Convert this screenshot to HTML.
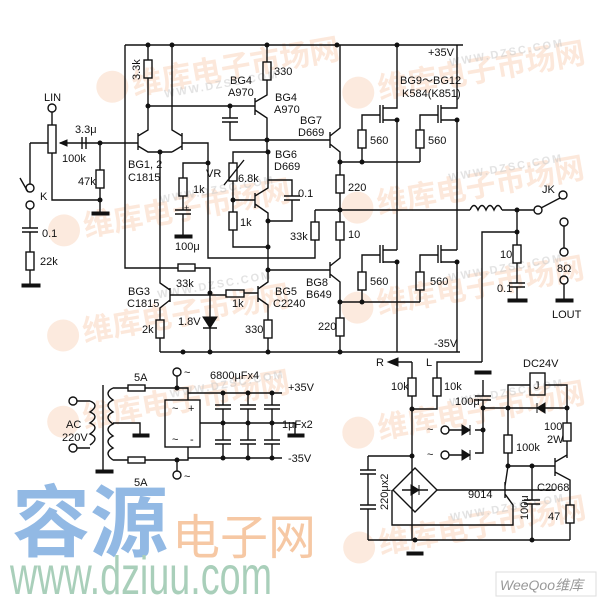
<!DOCTYPE html>
<html><head><meta charset="utf-8"><style>
html,body{margin:0;padding:0;background:#fff;width:600px;height:600px;overflow:hidden}
svg{display:block}
text{font-family:"Liberation Sans","Noto Sans CJK SC",sans-serif;fill:#111;font-size:11px}
.wm{fill:rgba(240,150,90,0.22);font-size:30px;font-weight:bold}
.wm2{fill:rgba(200,200,200,0.5);font-size:11px;font-weight:bold;letter-spacing:2px}
</style></head><body>
<svg width="600" height="600" viewBox="0 0 600 600" xmlns="http://www.w3.org/2000/svg">
<g>
<g transform="rotate(-10 150 70)"><circle cx="110" cy="80" r="16" fill="rgba(240,150,90,0.2)"/><text class="wm" x="130" y="92">维库电子市场网</text><text class="wm2" x="160" y="100">WWW.DZSC.COM</text></g>
<g transform="rotate(-10 150 200)"><circle cx="60" cy="215" r="16" fill="rgba(240,150,90,0.2)"/><text class="wm" x="80" y="225">维库电子市场网</text><text class="wm2" x="160" y="205">WWW.DZSC.COM</text></g>
<g transform="rotate(-10 150 310)"><circle cx="60" cy="320" r="16" fill="rgba(240,150,90,0.2)"/><text class="wm" x="80" y="330">维库电子市场网</text><text class="wm2" x="160" y="300">WWW.DZSC.COM</text></g>
<g transform="rotate(-10 400 70)"><circle cx="355" cy="85" r="16" fill="rgba(240,150,90,0.2)"/><text class="wm" x="375" y="95">维库电子市场网</text><text class="wm2" x="450" y="75">WWW.DZSC.COM</text></g>
<g transform="rotate(-10 400 190)"><circle cx="355" cy="200" r="16" fill="rgba(240,150,90,0.2)"/><text class="wm" x="375" y="210">维库电子市场网</text><text class="wm2" x="450" y="190">WWW.DZSC.COM</text></g>
<g transform="rotate(-10 400 290)"><circle cx="355" cy="300" r="16" fill="rgba(240,150,90,0.2)"/><text class="wm" x="375" y="310">维库电子市场网</text><text class="wm2" x="450" y="290">WWW.DZSC.COM</text></g>
<g transform="rotate(-10 100 400)"><circle cx="60" cy="415" r="16" fill="rgba(240,150,90,0.2)"/><text class="wm" x="80" y="425">维库电子市场网</text><text class="wm2" x="170" y="410">WWW.DZSC.COM</text></g>
<g transform="rotate(-10 400 410)"><circle cx="355" cy="425" r="16" fill="rgba(240,150,90,0.2)"/><text class="wm" x="375" y="435">维库电子市场网</text><text class="wm2" x="450" y="415">WWW.DZSC.COM</text></g>
<g transform="rotate(-10 400 520)"><circle cx="355" cy="540" r="16" fill="rgba(240,150,90,0.2)"/><text class="wm" x="375" y="550">维库电子市场网</text><text class="wm2" x="450" y="530">WWW.DZSC.COM</text></g>
</g>
<text x="12" y="550" style="font-size:78px;font-weight:bold;fill:#92b9e4">容源</text>
<text x="172" y="554" style="font-size:48px;fill:#f6c8a4">电子网</text>
<text x="10" y="594" textLength="262" lengthAdjust="spacingAndGlyphs" style="font-size:54px;fill:#a9cfba">www.dziuu.com</text>
<rect x="496" y="572" width="100" height="24" fill="#fff" stroke="#ddd"/>
<text x="500" y="590" style="font-size:14px;font-style:italic;fill:#999">WeeQoo维库</text>

<g stroke="#111" stroke-width="1.4" fill="none">
<path d="M125,45H463 M125,45V268H178 M195,268H210V293"/>
<rect x="178" y="264" width="17" height="7"/>
<path d="M148,45V60 M148,78V106H255"/><rect x="144" y="60" width="8" height="18"/>
<path d="M230,106V118 M222,118H238 M222,122H238 M230,122V140H268"/>
<path d="M255,98V115 M255,102L267,95V80 M267,45V62 M255,110L267,118V152"/><rect x="263" y="62" width="8" height="18"/>
<path d="M267,152H233V163 M233,181V200H255 M255,193V208 M255,196L268,188V152 M255,204L268,213V270 M233,200V212 M233,230V247H268"/>
<rect x="229" y="163" width="8" height="18"/><rect x="229" y="212" width="8" height="18"/>
<path d="M224,185L244,160"/>
<path d="M268,180H292V196 M284,196H300 M284,200H300 M292,200V221H268"/>
<path d="M100,143H82 M86,143H138 M138,133V150 M138,136L148,130V106 M138,146L148,152H172 M182,133V150 M182,136L172,130V45 M182,146L172,152 M182,143H208V258H315V240 M315,222V210"/>
<path d="M82,137V149 M86,137V149"/>
<rect x="311" y="222" width="8" height="18"/>
<path d="M208,163H183V178 M183,196V210 M175,210H191 M175,214H191 M183,214V236"/><rect x="179" y="178" width="8" height="18"/>
<path d="M160,152V283L170,290 M170,288V302 M170,295H226 M244,293H258 M170,300L160,308V320 M160,338V352"/>
<rect x="156" y="320" width="8" height="18"/><rect x="226" y="290" width="18" height="7"/>
<path d="M210,293V317 M210,328V352 M203,328H217"/>
<path d="M258,286V302 M258,289L268,282V270 M258,298L268,305V320 M268,338V352 M268,270H330"/><rect x="264" y="320" width="8" height="18"/>
<path d="M268,140H330 M330,132V148 M330,136L340,128V45 M330,144L340,152V175 M340,193V222 M340,240V258L330,266 M330,262V278 M330,274L340,282V318 M340,336V352"/>
<rect x="336" y="175" width="8" height="18"/><rect x="336" y="222" width="8" height="18"/><rect x="336" y="318" width="8" height="18"/>
<path d="M340,162H420 M362,162V148 M362,130V115H380 M380,105V123 M383,105V123 M383,108H397V45 M383,120H397V250"/>
<rect x="358" y="130" width="8" height="18"/>
<path d="M420,162V148 M420,130V115H438 M438,105V123 M441,105V123 M441,108H457V45 M441,120H457V250"/>
<rect x="416" y="130" width="8" height="18"/>
<path d="M340,302H420 M362,302V290 M362,272V255H380 M380,245V263 M383,245V263 M383,250H397 M383,262H397V352"/>
<rect x="358" y="272" width="8" height="18"/>
<path d="M420,302V290 M420,272V255H438 M438,245V263 M441,245V263 M441,250H457 M441,262H457V352"/>
<rect x="416" y="272" width="8" height="18"/>
<path d="M160,352H460"/>
<path d="M315,210H470 M470,210q4,-9 8,0q4,-9 8,0q4,-9 8,0q4,-9 8,0 M502,210H534 M517,210V232H482V362 M517,232V245 M517,263V283 M509,283H525 M509,287H525 M517,287V300"/>
<rect x="513" y="245" width="8" height="18"/>
<circle cx="538" cy="210" r="4"/><path d="M541,208L560,198"/><circle cx="563" cy="195" r="4"/>
<circle cx="564" cy="222" r="4"/><path d="M564,226V248"/><circle cx="564" cy="252" r="4"/>
<circle cx="564" cy="280" r="4"/><path d="M564,284V300"/>
<circle cx="52" cy="108" r="4"/><path d="M52,112V125 M52,153V200H100 M30,143H48 M30,143V184 M30,209V228 M22,228H38 M22,232H38 M30,232V252 M30,270V285 M100,143V170 M100,188V213 M28,192L20,178"/>
<rect x="48" y="125" width="8" height="28"/>
<circle cx="30" cy="188" r="4"/><circle cx="30" cy="205" r="4"/>
<rect x="26" y="252" width="8" height="18"/><rect x="96" y="170" width="8" height="18"/>
<path d="M60,143H82"/>
<circle cx="73" cy="401" r="4"/><circle cx="73" cy="448" r="4"/>
<path d="M77,401H90 M77,448H90 M90,401q10,4 0,11q10,4 0,11q10,4 0,11q10,4 0,11 M103,385V470 M113,388q-10,5 0,12q-10,5 0,12q-10,5 0,12q-10,5 0,12q-10,5 0,12q-10,5 0,12 M113,388H128 M113,460H128 M113,423H140V435 M145,388H188V400 M145,460H188V447 M177,388V376 M177,460V471 M188,393H282 M188,458H282 M200,423H282"/>
<rect x="128" y="385" width="17" height="6"/><rect x="128" y="457" width="17" height="6"/>
<circle cx="177" cy="372" r="4"/><circle cx="177" cy="475" r="4"/>
<rect x="165" y="400" width="35" height="47"/>
<path d="M223,393V405 M215,405H231 M215,409H231 M223,409V436 M223,436V440 M215,440H231 M215,444H231 M223,444V458"/>
<path d="M248,393V405 M240,405H256 M240,409H256 M248,409V436 M248,436V440 M240,440H256 M240,444H256 M248,444V458"/>
<path d="M272,393V405 M264,405H280 M264,409H280 M272,409V436 M272,436V440 M264,440H280 M264,444H280 M272,444V458"/>
<path d="M282,423H295V435"/>
<path d="M412,362H398 M412,362V378 M412,396V540 M412,409H437V396 M437,378V362H482 M483,380V396 M475,396H491 M475,400H491 M483,400V453H475 M483,430H475 M449,430H462 M449,455H462 M483,408H567 M508,408V385H530 M545,385H567V423 M508,408V435 M508,453V466H555 M567,441V458 M555,458V476 M555,462L567,455 M555,472L570,480V505 M570,523V540 M532,466V500 M524,500H540 M524,504H540 M532,504V540 M368,540H570 M368,456H412 M368,456V470 M360,470H376 M360,474H376 M368,474V505 M360,505H376 M360,509H376 M368,509V540 M437,490H555 M505,482V498 M505,486L508,466 M505,494L513,505V525H392V490"/>
<rect x="408" y="378" width="8" height="18"/><rect x="433" y="378" width="8" height="18"/>
<rect x="504" y="435" width="8" height="18"/><rect x="563" y="423" width="8" height="18"/><rect x="566" y="505" width="8" height="18"/>
<rect x="530" y="373" width="15" height="22"/>
<circle cx="445" cy="430" r="4"/><circle cx="445" cy="455" r="4"/>
<path d="M415,468L437,490L415,512L393,490Z"/>
<path d="M402,490H428"/>
</g>
<g fill="#111" stroke="#111" stroke-width="1">
<path d="M462,425L470,430L462,435Z M470,425V435"/>
<path d="M462,450L470,455L462,460Z M470,450V460"/>
<path d="M545,403L537,408L545,413Z M537,403V413"/>
<path d="M411,485L419,490L411,495Z M419,485V495"/>
<path d="M203,317H217L210,328Z"/>
<path d="M388,362L398,358V366Z"/>
<path d="M60,143L67,140V146Z"/>
<rect x="175" y="235" width="17" height="3"/>
<rect x="92" y="212" width="17" height="3"/>
<rect x="22" y="284" width="18" height="3"/>
<rect x="508" y="299" width="19" height="3"/>
<rect x="556" y="299" width="17" height="3"/>
<rect x="96" y="470" width="17" height="3"/>
<rect x="133" y="434" width="16" height="3"/>
<rect x="288" y="434" width="16" height="3"/>
<rect x="475" y="371" width="16" height="3"/>
<rect x="407" y="552" width="16" height="3"/>
</g>
<g fill="#111">
<circle cx="148" cy="45" r="2.5"/><circle cx="172" cy="45" r="2.5"/><circle cx="267" cy="45" r="2.5"/><circle cx="337" cy="45" r="2.5"/><circle cx="397" cy="45" r="2.5"/>
<circle cx="148" cy="106" r="2.5"/><circle cx="230" cy="106" r="2.5"/><circle cx="267" cy="140" r="2.5"/><circle cx="268" cy="152" r="2.5"/>
<circle cx="233" cy="200" r="2.5"/><circle cx="268" cy="221" r="2.5"/><circle cx="268" cy="247" r="2.5"/><circle cx="268" cy="270" r="2.5"/>
<circle cx="160" cy="152" r="2.5"/><circle cx="100" cy="143" r="2.5"/><circle cx="100" cy="200" r="2.5"/><circle cx="208" cy="163" r="2.5"/>
<circle cx="210" cy="293" r="2.5"/><circle cx="340" cy="162" r="2.5"/><circle cx="362" cy="162" r="2.5"/><circle cx="340" cy="210" r="2.5"/>
<circle cx="340" cy="302" r="2.5"/><circle cx="362" cy="302" r="2.5"/><circle cx="397" cy="120" r="2.5"/><circle cx="457" cy="120" r="2.5"/>
<circle cx="397" cy="262" r="2.5"/><circle cx="457" cy="262" r="2.5"/><circle cx="517" cy="210" r="2.5"/><circle cx="517" cy="232" r="2.5"/>
<circle cx="183" cy="352" r="2.5"/><circle cx="210" cy="352" r="2.5"/><circle cx="268" cy="352" r="2.5"/><circle cx="340" cy="352" r="2.5"/>
<circle cx="177" cy="388" r="2.5"/><circle cx="177" cy="460" r="2.5"/>
<circle cx="223" cy="393" r="2.5"/><circle cx="248" cy="393" r="2.5"/><circle cx="272" cy="393" r="2.5"/>
<circle cx="223" cy="423" r="2.5"/><circle cx="248" cy="423" r="2.5"/><circle cx="272" cy="423" r="2.5"/>
<circle cx="223" cy="458" r="2.5"/><circle cx="248" cy="458" r="2.5"/><circle cx="272" cy="458" r="2.5"/>
<circle cx="412" cy="409" r="2.5"/><circle cx="483" cy="408" r="2.5"/><circle cx="483" cy="430" r="2.5"/><circle cx="508" cy="408" r="2.5"/><circle cx="567" cy="408" r="2.5"/>
<circle cx="412" cy="456" r="2.5"/><circle cx="508" cy="466" r="2.5"/><circle cx="532" cy="466" r="2.5"/><circle cx="415" cy="540" r="2.5"/><circle cx="532" cy="540" r="2.5"/>
</g>
<text x="428" y="56">+35V</text>
<text x="0" y="0" transform="translate(140,80) rotate(-90)">3.3k</text>
<text x="274" y="75">330</text>
<text x="230" y="84">BG4</text><text x="228" y="96">A970</text>
<text x="275" y="101">BG4</text><text x="274" y="113">A970</text>
<text x="300" y="124">BG7</text><text x="298" y="136">D669</text>
<text x="400" y="84">BG9～BG12</text><text x="402" y="97">K584(K851)</text>
<text x="370" y="144">560</text><text x="428" y="144">560</text>
<text x="44" y="101">LIN</text><text x="75" y="133">3.3μ</text><text x="62" y="162">100k</text><text x="78" y="185">47k</text>
<text x="128" y="168">BG1, 2</text><text x="128" y="181">C1815</text>
<text x="206" y="177">VR</text><text x="238" y="182">6.8k</text><text x="275" y="158">BG6</text><text x="274" y="170">D669</text>
<text x="193" y="193">1k</text><text x="240" y="226">1k</text><text x="298" y="197">0.1</text>
<text x="175" y="250">100μ</text><text x="184" y="211" style="font-size:9px">+</text>
<text x="40" y="200">K</text><text x="42" y="237">0.1</text><text x="40" y="265">22k</text>
<text x="290" y="240">33k</text><text x="348" y="191">220</text><text x="348" y="238">10</text>
<text x="128" y="295">BG3</text><text x="127" y="307">C1815</text><text x="176" y="287">33k</text>
<text x="142" y="333">2k</text><text x="178" y="325">1.8V</text><text x="232" y="307">1k</text>
<text x="275" y="295">BG5</text><text x="273" y="307">C2240</text><text x="245" y="333">330</text>
<text x="306" y="286">BG8</text><text x="306" y="298">B649</text><text x="318" y="330">220</text>
<text x="370" y="285">560</text><text x="430" y="285">560</text><text x="434" y="347">-35V</text>
<text x="542" y="193">JK</text><text x="500" y="258">10</text><text x="497" y="292">0.1</text>
<text x="557" y="272">8Ω</text><text x="552" y="318">LOUT</text>
<text x="134" y="381">5A</text><text x="134" y="486">5A</text>
<text x="66" y="428">AC</text><text x="62" y="441">220V</text>
<text x="184" y="376">~</text><text x="184" y="480">~</text>
<text x="210" y="379">6800μFx4</text><text x="288" y="391">+35V</text><text x="282" y="428">1μFx2</text><text x="288" y="462">-35V</text>
<text x="172" y="412">~</text><text x="188" y="412">+</text><text x="172" y="443">~</text><text x="190" y="443">-</text>
<text x="376" y="366">R</text><text x="426" y="366">L</text>
<text x="391" y="390">10k</text><text x="444" y="390">10k</text><text x="455" y="405">100μ</text>
<text x="523" y="367">DC24V</text><text x="534" y="389">J</text>
<text x="544" y="430">100</text><text x="547" y="443">2W</text><text x="516" y="451">100k</text>
<text x="427" y="433">~</text><text x="427" y="458">~</text>
<text x="468" y="498">9014</text><text x="537" y="491">C2068</text><text x="548" y="520">47</text>
<text x="0" y="0" transform="translate(388,510) rotate(-90)">220μx2</text>
<text x="0" y="0" transform="translate(528,520) rotate(-90)">100μ</text>
</svg>
</body></html>
